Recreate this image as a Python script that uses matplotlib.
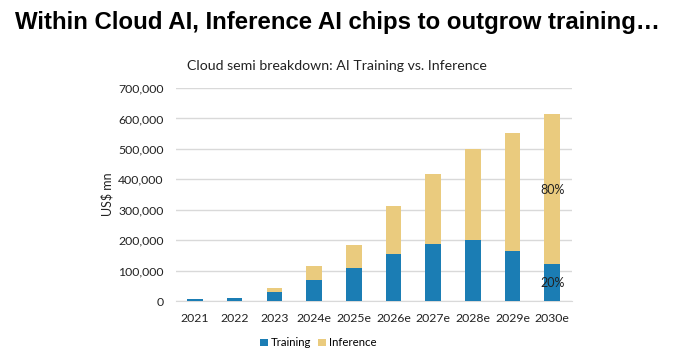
import numpy as np
import matplotlib.pyplot as plt
from matplotlib.ticker import FuncFormatter

# Data (US$ mn)
years = ['2021', '2022', '2023', '2024e', '2025e', '2026e', '2027e', '2028e', '2029e', '2030e']
training = [7000, 10000, 30000, 69000, 108000, 156000, 187000, 200000, 164000, 121000]
inference = [0, 0, 12000, 47000, 75000, 155000, 232000, 299000, 388000, 492000]

blue = '#1B7DB4'
tan = '#EACB7E'

plt.rcParams['font.family'] = ['Lato', 'DejaVu Sans']

fig = plt.figure(figsize=(6.74, 3.59), dpi=100)
ax = fig.add_axes([176 / 674, 1 - 301 / 359, (572 - 176) / 674, (301 - 88) / 359])

x = np.arange(len(years))
ax.bar(x, training, width=0.39, color=blue, label='Training', zorder=3)
ax.bar(x, inference, width=0.39, bottom=training, color=tan, label='Inference', zorder=3)

ax.set_xlim(-0.48, 9.5)
ax.set_ylim(0, 700000)
ax.set_yticks(np.arange(0, 700001, 100000))
ax.yaxis.set_major_formatter(FuncFormatter(lambda v, p: f'{int(v):,}'))
ax.set_xticks(x)
ax.set_xticklabels(years)
ax.tick_params(length=0, labelsize=8.8, colors='#222222', pad=9)
ax.tick_params(axis='x', pad=9)
ax.grid(axis='y', color='#D9D9D9', linewidth=1, zorder=0)
for s in ['top', 'right', 'left']:
    ax.spines[s].set_visible(False)
ax.spines['bottom'].set_color('#D9D9D9')
ax.set_ylabel('US$ mn', fontsize=9, color='#222222', labelpad=3)

# share labels on the 2030e bar
ax.text(9, 365000, '80%', ha='center', va='center', fontsize=9, color='#222222', zorder=4)
ax.text(9, 59000, '20%', ha='center', va='center', fontsize=9, color='#222222', zorder=4)

ax.legend(loc='center', bbox_to_anchor=(0.36, -0.197), ncol=2, frameon=False,
          fontsize=8.2, handlelength=0.65, handleheight=0.65, handletextpad=0.3,
          columnspacing=0.6, borderaxespad=0)

fig.text(0.5, 1 - 22 / 359, 'Within Cloud AI, Inference AI chips to outgrow training…',
         ha='center', va='center', fontsize=17.3, fontweight='bold', family='Liberation Sans')
fig.text(0.5, 1 - 66 / 359, 'Cloud semi breakdown: AI Training vs. Inference',
         ha='center', va='center', fontsize=10.2, color='#222222')

fig.savefig('out.png', dpi=100)
